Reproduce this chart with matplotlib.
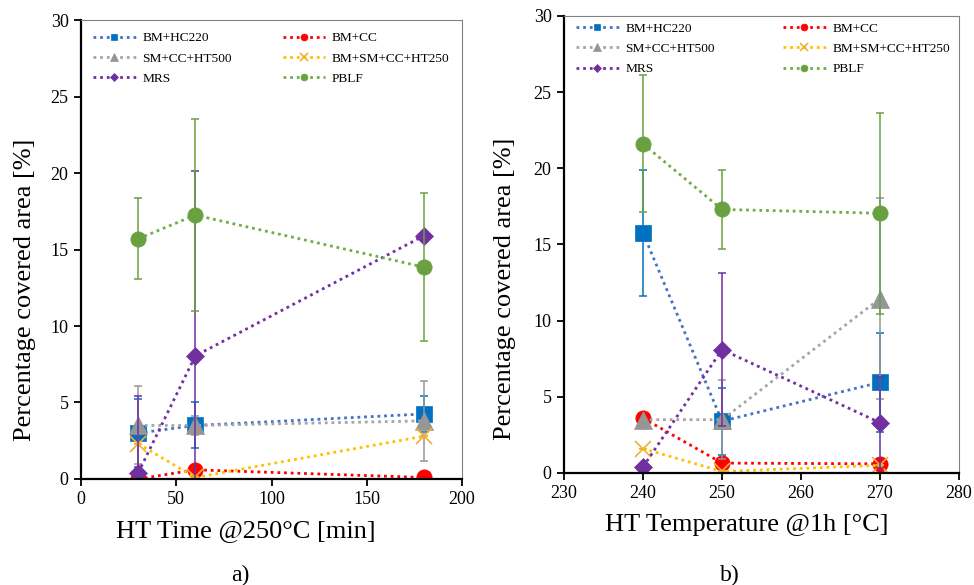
import numpy as np
import matplotlib
matplotlib.use("Agg")
import matplotlib.pyplot as plt

plt.rcParams["font.family"] = ["Liberation Serif", "DejaVu Serif"]

# series names (Excel order)
nomes = ["BM+HC220", "BM+CC", "SM+CC+HT500", "BM+SM+CC+HT250", "MRS", "PBLF"]

# a) HT time @250C
tempo = [30, 60, 180]
a_hc220 = [3.0, 3.5, 4.25]
a_hc220_err = [2.2, 1.5, 1.15]
a_cc = [0.0, 0.6, 0.1]
a_cc_err = [0, 0, 0]
a_ht500 = [3.5, 3.5, 3.8]
a_ht500_err = [2.55, 0.6, 2.6]
a_ht250 = [2.3, 0.1, 2.8]
a_ht250_err = [0, 0, 0]
a_mrs = [0.4, 8.05, 15.9]
a_mrs_err = [5.0, 12.1, 0]
a_pblf = [15.7, 17.25, 13.85]
a_pblf_err = [2.65, 6.25, 4.85]

# b) HT temperature @1h
temp = [240, 250, 270]
b_hc220 = [15.75, 3.4, 5.95]
b_hc220_err = [4.15, 2.2, 3.25]
b_cc = [3.6, 0.65, 0.6]
b_cc_err = [0, 0, 0]
b_ht500 = [3.5, 3.5, 11.45]
b_ht500_err = [0, 2.6, 6.6]
b_ht250 = [1.6, 0.1, 0.5]
b_ht250_err = [0, 0, 0]
b_mrs = [0.4, 8.1, 3.3]
b_mrs_err = [0, 5.0, 3.0]
b_pblf = [21.6, 17.3, 17.05]
b_pblf_err = [4.5, 2.6, 6.6]

# (cor linha, cor marcador, marcador)
estilos = [
    ("#4472C4", "#0070C0", "s"),
    ("#FF0000", "#FF0000", "o"),
    ("#A5A5A5", "#969696", "^"),
    ("#FFC000", "#F0B030", "x"),
    ("#7030A0", "#7030A0", "D"),
    ("#70AD47", "#6AA140", "o"),
]
tamanhos = [11, 11, 13, 12, 9, 11]


def painel(ax, x, series, erros, xlim, colsp, topo):
    handles = []
    for i, (y, e) in enumerate(zip(series, erros)):
        cl, cm, mk = estilos[i]
        ax.errorbar(x, y, yerr=e, fmt="none", ecolor=cm, elinewidth=1.1,
                    capsize=3, capthick=1.1)
        h, = ax.plot(x, y, linestyle=(0, (1, 1.4)), lw=2, color=cl,
                     marker=mk, ms=tamanhos[i], mfc=cm, mec=cm,
                     mew=1.2 if mk == "x" else 0.5, label=nomes[i])
        handles.append(h)
    ax.set_xlim(*xlim)
    ax.set_ylim(0, 30)
    ax.set_yticks(range(0, 31, 5))
    ax.tick_params(direction="out", length=5, width=1.3, labelsize=13, pad=4)
    for s in ["left", "bottom"]:
        ax.spines[s].set_linewidth(1.6)
        ax.spines[s].set_color("black")
    for s in ["top", "right"]:
        ax.spines[s].set_linewidth(0.8)
        ax.spines[s].set_color("#808080")
    ordem = [0, 2, 4, 1, 3, 5]
    ax.legend([handles[k] for k in ordem], [nomes[k] for k in ordem],
              ncol=2, loc="upper left", bbox_to_anchor=(0.0, topo),
              frameon=False, fontsize=9.6, markerscale=0.45,
              handlelength=3.2, handletextpad=0.5, columnspacing=colsp,
              labelspacing=0.6, borderaxespad=0.5)


fig = plt.figure(figsize=(9.74, 5.85), dpi=100)
ax1 = fig.add_axes([0.0832, 0.1812, 0.3912, 0.7846])
ax2 = fig.add_axes([0.5791, 0.1915, 0.4055, 0.7812])

painel(ax1, tempo, [a_hc220, a_cc, a_ht500, a_ht250, a_mrs, a_pblf],
       [a_hc220_err, a_cc_err, a_ht500_err, a_ht250_err, a_mrs_err, a_pblf_err],
       (0, 200), 3.8, 1.0)
ax1.set_xticks(range(0, 201, 50))

painel(ax2, temp, [b_hc220, b_cc, b_ht500, b_ht250, b_mrs, b_pblf],
       [b_hc220_err, b_cc_err, b_ht500_err, b_ht250_err, b_mrs_err, b_pblf_err],
       (230, 280), 5.1, 1.012)
ax2.set_xticks(range(230, 281, 10))

fig.text(246 / 974, 1 - 531 / 585, "HT Time @250°C [min]", fontsize=19,
         ha="center", va="center")
fig.text(747 / 974, 1 - 525 / 585, "HT Temperature @1h [°C]", fontsize=19,
         ha="center", va="center")
fig.text(25 / 974, 1 - 290 / 585, "Percentage covered area [%]", fontsize=19,
         rotation=90, ha="center", va="center")
fig.text(505 / 974, 1 - 289 / 585, "Percentage covered area [%]", fontsize=19,
         rotation=90, ha="center", va="center")
fig.text(240 / 974, 1 - 575 / 585, "a)", fontsize=17, ha="center", va="center")
fig.text(730 / 974, 1 - 575 / 585, "b)", fontsize=17, ha="center", va="center")

fig.savefig("out.png", dpi=100)
